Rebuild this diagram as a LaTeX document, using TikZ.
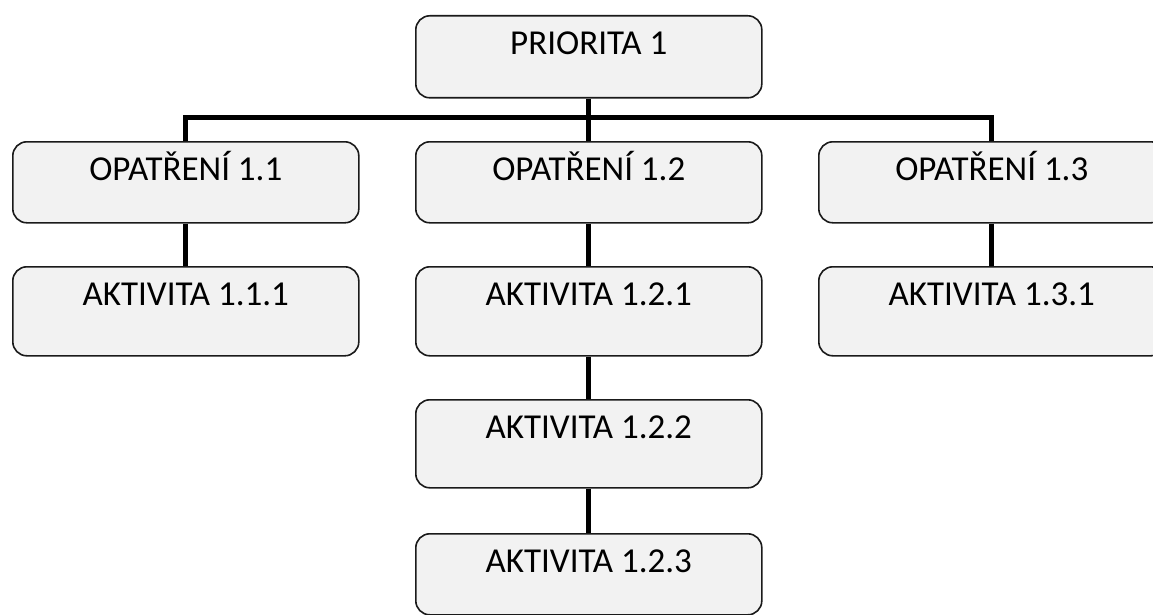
\documentclass[tikz,border=0pt]{standalone}
\usepackage{fontspec}
\setmainfont{Carlito}
\definecolor{boxfill}{HTML}{F2F2F2}
\definecolor{boxline}{HTML}{1A1A1A}
\begin{document}
\begin{tikzpicture}[x=1pt,y=-1pt,
  box/.style={draw=boxline, line width=1.6pt, fill=boxfill, rounded corners=14pt,
    minimum width=346pt, inner sep=0pt, text height=39pt, text depth=#1,
    anchor=north west, font=\fontsize{35}{40}\selectfont},
  conn/.style={line width=5pt, black}]
\useasboundingbox (0,0) rectangle (1153,615);
\clip (0,0) rectangle (1153,615);
\node[box=43pt] (p) at (415,15) {PRIORITA 1};
\node[box=42pt] (o11) at (12,141) {OPATŘENÍ 1.1};
\node[box=42pt] (o12) at (415,141) {OPATŘENÍ 1.2};
\node[box=42pt] (o13) at (818,141) {OPATŘENÍ 1.3};
\node[box=50pt] (a111) at (12,266) {AKTIVITA 1.1.1};
\node[box=50pt] (a121) at (415,266) {AKTIVITA 1.2.1};
\node[box=50pt] (a131) at (818,266) {AKTIVITA 1.3.1};
\node[box=49pt] (a122) at (415,399) {AKTIVITA 1.2.2};
\node[box=42pt] (a123) at (415,533) {AKTIVITA 1.2.3};
\coordinate (bus) at (588,118);
\draw[conn] (p.south) -- (o12.north);
\draw[conn] (o11.north) |- (bus) -| (o13.north);
\draw[conn] (o11.south) -- (a111.north);
\draw[conn] (o12.south) -- (a121.north);
\draw[conn] (o13.south) -- (a131.north);
\draw[conn] (a121.south) -- (a122.north);
\draw[conn] (a122.south) -- (a123.north);
\end{tikzpicture}
\end{document}
